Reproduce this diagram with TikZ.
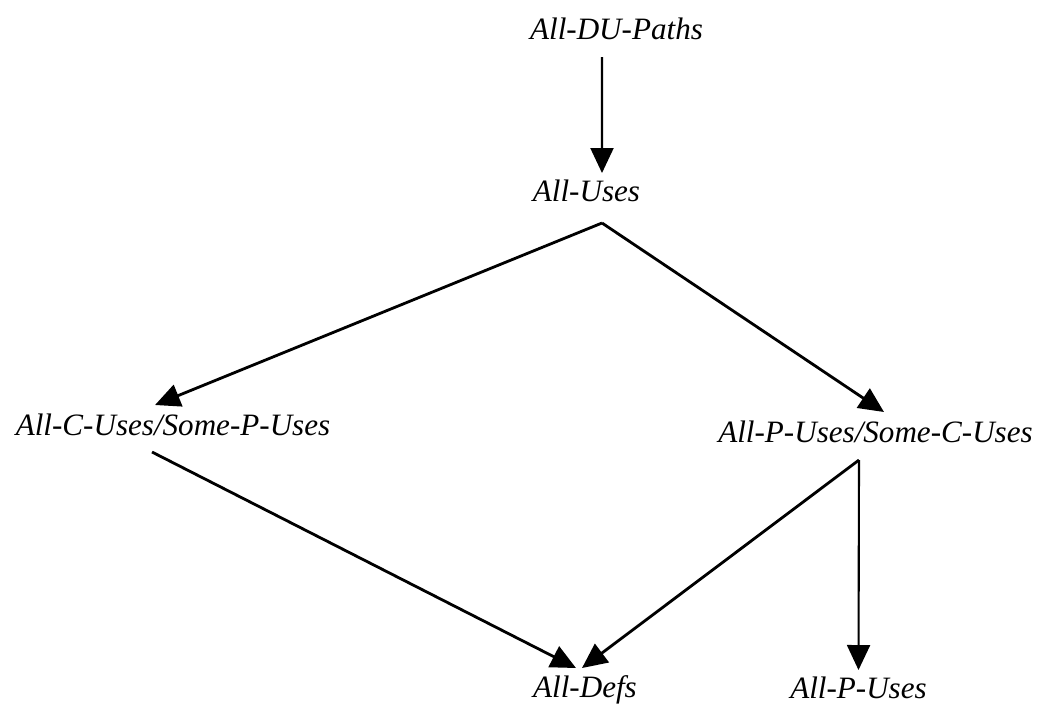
\documentclass[tikz,border=0pt]{standalone}
\usepackage{fontspec}
\setmainfont{Liberation Serif}
\usetikzlibrary{arrows.meta}

\begin{document}
\begin{tikzpicture}[x=1cm,y=1cm,
 crit/.style={inner sep=0pt,anchor=base,font=\fontsize{17.7}{20}\selectfont\itshape},
 arr/.style={-{Triangle[length=0.5cm,width=0.46cm]},line width=1.6pt},
 down/.style={arr,line width=1.2pt}]
\useasboundingbox (0,0) rectangle (20.98,-14.1);
\node[crit] (dupaths) at (12.33,-0.78) {All-DU-Paths};
\node[crit] (uses) at (11.73,-4.02) {All-Uses};
\node[crit] (cpuses) at (3.46,-8.70) {All-C-Uses/Some-P-Uses};
\node[crit] (pcuses) at (17.51,-8.84) {All-P-Uses/Some-C-Uses};
\node[crit] (defs) at (11.70,-13.94) {All-Defs};
\node[crit] (puses) at (17.17,-13.96) {All-P-Uses};
% subsumption arrows
\draw[down] ([xshift=-0.29cm,yshift=-0.36cm]dupaths.base) -- ([xshift=0.31cm,yshift=0.56cm]uses.base);
\draw[arr] ([xshift=0.31cm,yshift=-0.44cm]uses.base) -- ([xshift=-0.36cm,yshift=0.6cm]cpuses.base);
\draw[arr] ([xshift=0.31cm,yshift=-0.44cm]uses.base) -- ([xshift=0.17cm,yshift=0.6cm]pcuses.base);
\draw[arr] ([xshift=-0.42cm,yshift=-0.34cm]cpuses.base) -- ([xshift=-0.18cm,yshift=0.58cm]defs.base);
\draw[arr] ([xshift=-0.33cm,yshift=-0.36cm]pcuses.base) -- ([xshift=-0.06cm,yshift=0.58cm]defs.base);
\draw[down] ([xshift=-0.33cm,yshift=-0.36cm]pcuses.base) -- ([yshift=0.56cm]puses.base);
\end{tikzpicture}
\end{document}
